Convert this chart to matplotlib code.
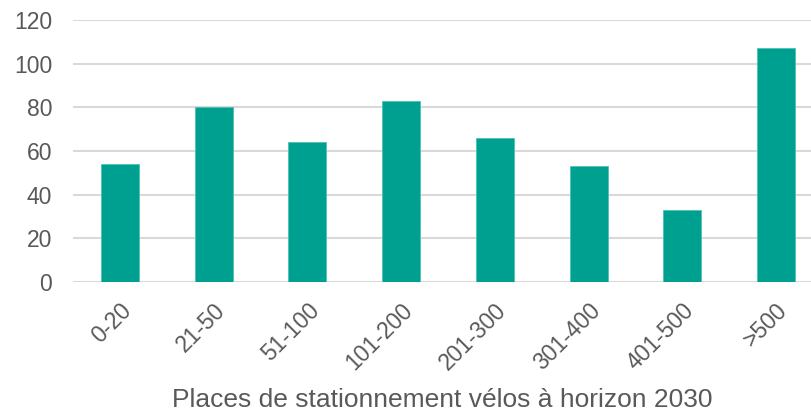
import matplotlib.pyplot as plt

categories = ["0-20", "21-50", "51-100", "101-200", "201-300", "301-400", "401-500", ">500"]
values = [54, 80, 64, 83, 66, 53, 33, 107]
yticks = [0, 20, 40, 60, 80, 100, 120]

plt.rcParams['font.family'] = ['Liberation Sans', 'DejaVu Sans']
TEXT = '#595959'
BAR = '#00A090'
GRID = '#D9D9D9'

fig = plt.figure(figsize=(8.12, 4.13), dpi=100)
ax = fig.add_axes([73 / 812, 1 - 282 / 413, 1 - 73 / 812, (282 - 20) / 413])

x = list(range(len(categories)))
ax.bar(x, values, width=0.405, color=BAR, edgecolor='#4CC2B4', linewidth=0.6, zorder=3)

ax.set_ylim(0, 120)
ax.set_yticks(yticks)
ax.set_xlim(-0.5, 7.5 - 11 / 93.7)
ax.set_xticks(x)
ax.set_xticklabels(categories, rotation=45, ha='right', va='top', rotation_mode='anchor')

ax.grid(axis='y', color=GRID, linewidth=1.5, zorder=0)
for s in ax.spines.values():
    s.set_visible(False)
ax.tick_params(axis='both', length=0, labelsize=16.5, colors=TEXT)
ax.tick_params(axis='y', pad=15)
ax.tick_params(axis='x', pad=12)

ax.set_xlabel("Places de stationnement vélos à horizon 2030", fontsize=19, color=TEXT, labelpad=10)

fig.savefig("out.png", dpi=100)
